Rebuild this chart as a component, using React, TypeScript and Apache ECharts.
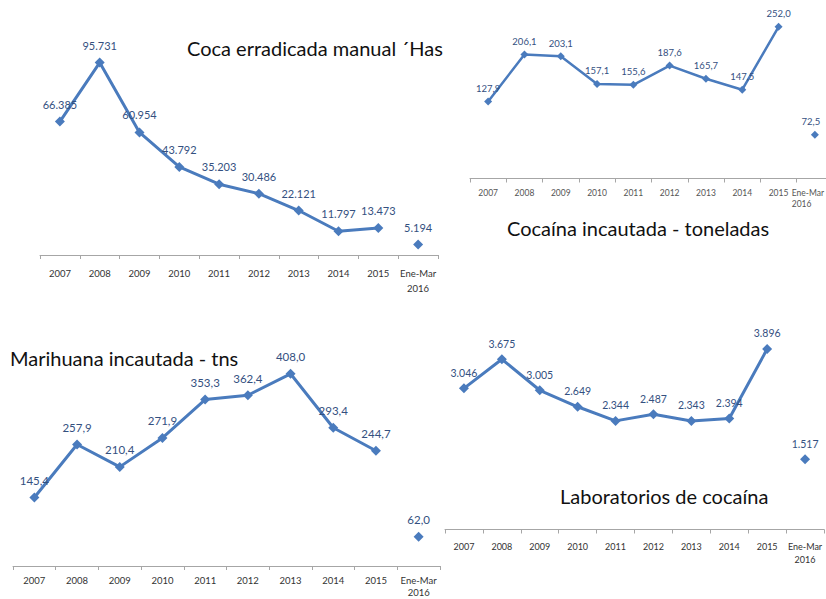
import React, { useEffect, useRef } from "react";
import * as echarts from "echarts";

const categories = ["2007", "2008", "2009", "2010", "2011", "2012", "2013", "2014", "2015", "Ene-Mar\n2016"];
const cocaErradicada = [66385, 95731, 60954, 43792, 35203, 30486, 22121, 11797, 13473, 5194];
const cocainaIncautada = [127.9, 206.1, 203.1, 157.1, 155.6, 187.6, 165.7, 147.5, 252.0, 72.5];
const marihuanaIncautada = [145.4, 257.9, 210.4, 271.9, 353.3, 362.4, 408.0, 293.4, 244.7, 62.0];
const laboratorios = [3046, 3675, 3005, 2649, 2344, 2487, 2343, 2394, 3896, 1517];
const titles = [
  "Coca erradicada manual \u00B4Has",
  "Coca\u00EDna incautada - toneladas",
  "Marihuana incautada - tns",
  "Laboratorios de coca\u00EDna",
];

const LINE = "#4a7bbd";
const LABEL = "#34507f";
const FONT = "Lato, 'Open Sans', sans-serif";

const fmtThousands = (v: number) => String(Math.round(v)).replace(/\B(?=(\d{3})+(?!\d))/g, ".");
const fmtComma = (v: number) => v.toFixed(1).replace(".", ",");

export default function App() {
  const ref = useRef<HTMLDivElement>(null);
  useEffect(() => {
    if (!ref.current) return;
    const chart = echarts.init(ref.current, null, { renderer: "svg" });

    const panels = [
      { data: cocaErradicada, fmt: fmtThousands, grid: { left: 40, top: 54, width: 398, height: 201 }, max: 100000,
        lblSize: 11, axSize: 9.5, axMargin: 11, axLH: 15, axColor: "#333", dist: 7, sym: 10, lw: 3, hideLast: false, lastOffset: [0, 0] },
      { data: cocainaIncautada, fmt: fmtComma, grid: { left: 470, top: 10, width: 363, height: 168.5 }, max: 280,
        lblSize: 9.5, axSize: 8.5, axMargin: 9, axLH: 11, axColor: "#555", dist: 4, sym: 8, lw: 2.5, hideLast: true, lastOffset: [-4, 0] },
      { data: marihuanaIncautada, fmt: fmtComma, grid: { left: 13, top: 354, width: 427, height: 212 }, max: 450,
        lblSize: 11.5, axSize: 9.5, axMargin: 8, axLH: 12.5, axColor: "#333", dist: 6, sym: 10, lw: 3, hideLast: false, lastOffset: [0, 0] },
      { data: laboratorios, fmt: fmtThousands, grid: { left: 445, top: 321, width: 379, height: 208.5 }, max: 4500,
        lblSize: 10.5, axSize: 9, axMargin: 10, axLH: 13, axColor: "#333", dist: 5, sym: 10, lw: 3, hideLast: false, lastOffset: [0, 0] },
    ];

    const grid: any[] = [];
    const xAxis: any[] = [];
    const yAxis: any[] = [];
    const series: any[] = [];
    panels.forEach((p, i) => {
      grid.push({ ...p.grid, containLabel: false, outerBoundsMode: "none" });
      xAxis.push({
        type: "category",
        gridIndex: i,
        data: categories,
        boundaryGap: true,
        axisLine: { lineStyle: { color: "#a6a6a6", width: 1 } },
        axisTick: { show: true, length: 4, lineStyle: { color: "#a6a6a6" } },
        axisLabel: {
          fontSize: p.axSize,
          color: p.axColor,
          fontFamily: FONT,
          margin: p.axMargin,
          lineHeight: p.axLH,
          interval: 0,
          formatter: (v: string, idx: number) => (p.hideLast && idx === categories.length - 1 ? "" : v),
        },
        splitLine: { show: false },
      });
      yAxis.push({ type: "value", gridIndex: i, min: 0, max: p.max, show: false, splitLine: { show: false } });
      const label = {
        show: true,
        position: "top",
        distance: p.dist,
        fontSize: p.lblSize,
        fontFamily: FONT,
        color: LABEL,
        formatter: (d: any) => p.fmt(Number(d.value)),
      };
      series.push({
        type: "line",
        xAxisIndex: i,
        yAxisIndex: i,
        data: p.data.slice(0, 9),
        symbol: "diamond",
        symbolSize: p.sym,
        showSymbol: true,
        lineStyle: { color: LINE, width: p.lw },
        itemStyle: { color: LINE, opacity: 1 },
        label,
      });
      series.push({
        type: "scatter",
        xAxisIndex: i,
        yAxisIndex: i,
        data: p.data.map((v, k) => (k === 9 ? v : "-")),
        symbol: "diamond",
        symbolSize: p.sym,
        itemStyle: { color: LINE, opacity: 1 },
        label: { ...label, offset: p.lastOffset },
      });
    });

    const titleStyle = { fill: "#111", fontFamily: FONT, fontSize: 20 };
    chart.setOption({
      animation: false,
      backgroundColor: "#ffffff",
      grid,
      xAxis,
      yAxis,
      series,
      graphic: [
        { type: "text", left: 187, top: 38, style: { ...titleStyle, text: titles[0] } },
        { type: "text", left: 507, top: 218, style: { ...titleStyle, text: titles[1] } },
        { type: "text", left: 10, top: 348, style: { ...titleStyle, text: titles[2] } },
        { type: "text", left: 560, top: 486, style: { ...titleStyle, text: titles[3] } },
        {
          type: "text",
          right: 2,
          top: 187,
          style: {
            text: categories[categories.length - 1],
            fill: "#555",
            fontFamily: FONT,
            fontSize: 8.5,
            lineHeight: 11,
            align: "center",
          },
        },
      ],
    });
    return () => chart.dispose();
  }, []);
  return (
    <div
      ref={ref}
      style={{ position: "fixed", left: 0, top: 0, width: 826, height: 599, background: "#fff" }}
    />
  );
}
